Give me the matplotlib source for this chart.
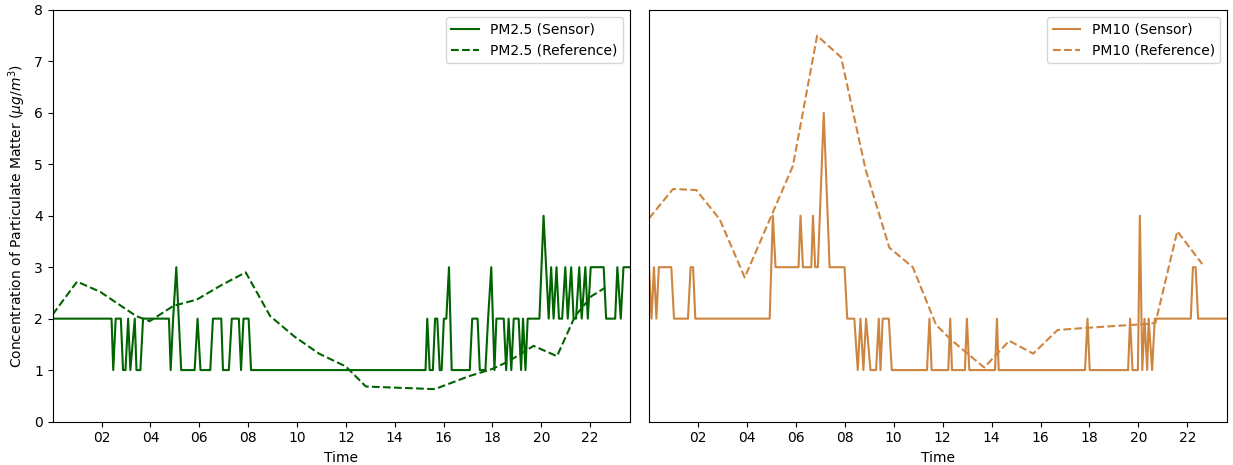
import matplotlib
matplotlib.use("Agg")
import matplotlib.pyplot as plt
from matplotlib.ticker import FixedLocator, FuncFormatter

# ---- data (hours of day, concentrations in ug/m3) ----
pm25_sensor_t = [0, 2.41, 2.48, 2.58, 2.79, 2.88, 2.98, 3.09, 3.18, 3.36, 3.43, 3.59, 3.70,
                 4.76, 4.83, 4.93, 5.06, 5.26, 5.81, 5.93, 6.05, 6.45, 6.56, 6.90, 6.97,
                 7.21, 7.33, 7.62, 7.71, 7.81, 8.02, 8.12,
                 15.26, 15.33, 15.43, 15.56, 15.65, 15.74, 15.84, 15.92, 16.01, 16.11, 16.22,
                 16.33, 17.07, 17.17, 17.39, 17.48, 17.71, 17.82, 17.95, 18.08, 18.16, 18.46,
                 18.56, 18.66, 18.77, 18.87, 19.07, 19.17, 19.25, 19.35, 19.44, 19.92, 20.09,
                 20.30, 20.40, 20.50, 20.62, 20.72, 20.85, 20.98, 21.08, 21.22, 21.32, 21.42,
                 21.55, 21.65, 21.80, 21.90, 22.02, 22.55, 22.65, 23.02, 23.11, 23.25, 23.36,
                 23.6]
pm25_sensor_v = [2, 2, 1, 2, 2, 1, 1, 2, 1, 2, 1, 1, 2,
                 2, 1, 2, 3, 1, 1, 2, 1, 1, 2, 2, 1,
                 1, 2, 2, 1, 2, 2, 1,
                 1, 2, 1, 1, 2, 2, 1, 1, 2, 2, 3,
                 1, 1, 2, 2, 1, 1, 2, 3, 1, 2, 2,
                 1, 2, 1, 2, 2, 1, 2, 1, 2, 2, 4,
                 2, 3, 2, 3, 2, 2, 3, 2, 3, 2, 2,
                 3, 2, 3, 2, 3, 3, 2, 2, 3, 2, 3,
                 3]

pm25_ref_t = [0, 1.0, 1.95, 3.42, 3.97, 4.95, 5.9, 6.9, 7.9, 8.9, 9.9, 10.9, 12.0, 12.82,
              15.64, 17.03, 17.98, 18.66, 19.68, 20.64, 21.38, 22.06, 22.61]
pm25_ref_v = [2.08, 2.72, 2.52, 2.05, 1.95, 2.25, 2.37, 2.65, 2.90, 2.05, 1.65, 1.32, 1.07,
              0.68, 0.63, 0.88, 1.02, 1.17, 1.47, 1.27, 2.05, 2.44, 2.60]

pm10_sensor_t = [0, 0.10, 0.20, 0.30, 0.40, 0.48, 0.91, 1.02, 1.59, 1.70, 1.80, 1.89,
                 4.93, 5.06, 5.17, 6.11, 6.19, 6.29, 6.63, 6.70, 6.79, 6.90, 7.14, 7.38,
                 7.99, 8.10, 8.39, 8.53, 8.64, 8.76, 8.87, 9.05, 9.28, 9.39, 9.46, 9.55,
                 9.80, 9.92, 11.36, 11.46, 11.55, 12.23, 12.31, 12.38, 12.91, 12.99, 13.09,
                 14.14, 14.22, 14.29, 17.82, 17.92, 18.01, 19.58, 19.66, 19.76, 19.98,
                 20.06, 20.16, 20.25, 20.36, 20.42, 20.56, 20.67, 22.14, 22.23, 22.34,
                 22.44, 23.6]
pm10_sensor_v = [3, 2, 3, 2, 3, 3, 3, 2, 2, 3, 3, 2,
                 2, 4, 3, 3, 4, 3, 3, 4, 3, 3, 6, 3,
                 3, 2, 2, 1, 2, 1, 2, 1, 1, 2, 1, 2,
                 2, 1, 1, 2, 1, 1, 2, 1, 1, 2, 1,
                 1, 2, 1, 1, 2, 1, 1, 2, 1, 1,
                 4, 1, 2, 1, 2, 1, 2, 2, 3, 3,
                 2, 2]

pm10_ref_t = [0.0, 0.98, 1.93, 2.89, 3.91, 5.88, 6.87, 7.85, 8.85, 9.82, 10.78, 11.73,
              12.34, 13.70, 14.72, 15.70, 16.70, 17.85, 20.45, 20.70, 21.59, 22.61]
pm10_ref_v = [3.95, 4.52, 4.50, 3.93, 2.80, 4.97, 7.50, 7.08, 4.90, 3.38, 3.00, 1.88,
              1.59, 1.05, 1.57, 1.32, 1.78, 1.82, 1.90, 1.92, 3.70, 3.06]

xticks = [2, 4, 6, 8, 10, 12, 14, 16, 18, 20, 22]
yticks = [0, 1, 2, 3, 4, 5, 6, 7, 8]

GREEN = "#006400"
ORANGE = "#CD853F"

fig = plt.figure(figsize=(12.33, 4.65), dpi=100)
ax1 = fig.add_axes([0.0427, 0.0935, 0.4683, 0.885])
ax2 = fig.add_axes([0.5264, 0.0935, 0.4689, 0.885], sharey=ax1)

ax1.plot(pm25_sensor_t, pm25_sensor_v, color=GREEN, lw=1.5, label="PM2.5 (Sensor)")
ax1.plot(pm25_ref_t, pm25_ref_v, color=GREEN, lw=1.5, ls="--", label="PM2.5 (Reference)")
ax2.plot(pm10_sensor_t, pm10_sensor_v, color=ORANGE, lw=1.5, label="PM10 (Sensor)")
ax2.plot(pm10_ref_t, pm10_ref_v, color=ORANGE, lw=1.5, ls="--", label="PM10 (Reference)")

fmt = FuncFormatter(lambda v, p: "%02d" % int(round(v)))
for ax in (ax1, ax2):
    ax.set_xlim(0, 23.63)
    ax.xaxis.set_major_locator(FixedLocator(xticks))
    ax.xaxis.set_major_formatter(fmt)
    ax.set_xlabel("Time", fontsize=10)
    ax.legend(loc="upper right", fontsize=10)
    ax.tick_params(labelsize=10)

ax1.set_ylim(0, 8)
ax1.set_yticks(yticks)
ax1.set_ylabel(r"Concentration of Particulate Matter ($\mu g/m^3$)", fontsize=10)
ax2.tick_params(axis="y", left=False, labelleft=False)

fig.savefig("out.png", dpi=100)
